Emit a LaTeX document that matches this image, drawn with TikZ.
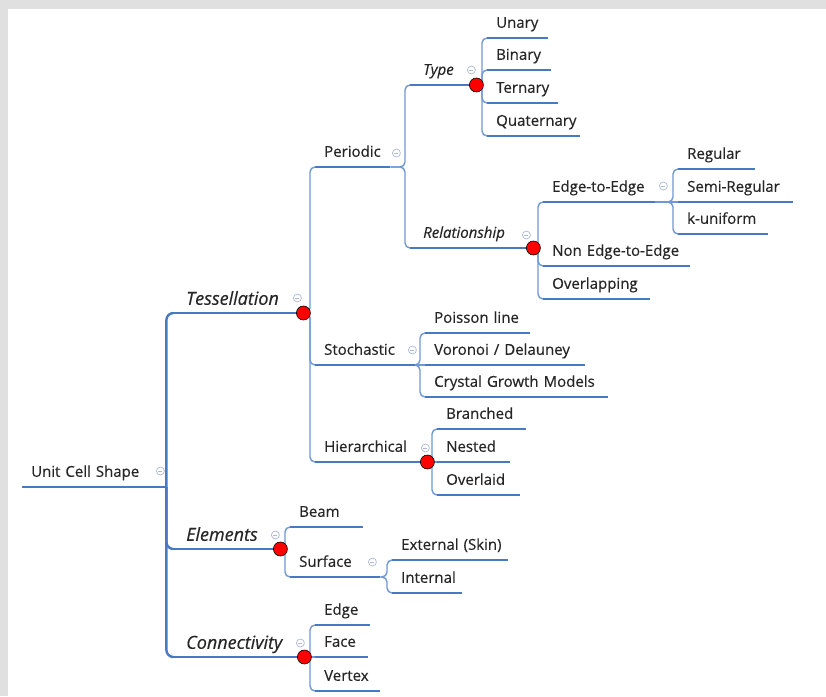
\documentclass[tikz,border=0pt]{standalone}
\usepackage{fontspec}
\setmainfont{Open Sans}[UprightFeatures={FakeBold=0.35}, ItalicFeatures={FakeBold=0.35}]
\usetikzlibrary{backgrounds}
\definecolor{ublue}{RGB}{72,122,196}
\definecolor{lblue}{RGB}{110,152,214}
\definecolor{gblue}{RGB}{172,186,212}
\definecolor{frame}{RGB}{224,224,224}

\begin{document}
\begin{tikzpicture}[x=1pt, y=-1pt,
  every node/.style={font=\fontsize{15}{18}\selectfont, text=black!85},
  uline/.style={draw=ublue, line width=2.2pt},
  topic/.style={anchor=south west, inner sep=0pt, text width=#1, align=left,
    text height=11pt, text depth=10pt, execute at begin node={\hspace*{9pt}},
    append after command={(\tikzlastnode.south west) edge[uline] (\tikzlastnode.south east)}},
  major/.style={font=\fontsize{18}{21}\selectfont\itshape, text depth=8pt,
    execute at begin node={\hspace*{4pt}}},
  minor/.style={font=\fontsize{15}{18}\selectfont\itshape, execute at begin node={\hspace*{4pt}}},
  link/.style={draw=lblue, line width=1.4pt, rounded corners=5pt},
  trunk/.style={draw=ublue, line width=2.4pt, rounded corners=7pt},
  dot/.style={circle, draw=black, fill=red, line width=0.6pt, minimum size=14pt, inner sep=0pt},
  fold/.style={circle, draw=gblue, line width=0.7pt, minimum size=8pt, inner sep=0pt,
    path picture={\draw[gblue, line width=0.7pt] ([xshift=-2pt]path picture bounding box.center) -- ([xshift=2pt]path picture bounding box.center);}}]
\useasboundingbox (0,0) rectangle (826,696);

% topics
\node[topic=143] (root) at (22,487) {Unit Cell Shape};
\node[topic=130, major] (tess) at (173,313) {Tessellation};
\node[topic=107, major] (elem) at (173,549) {Elements};
\node[topic=131, major] (conn) at (173,657) {Connectivity};
\node[topic=75] (per) at (315,167) {Periodic};
\node[topic=100] (sto) at (315,365) {Stochastic};
\node[topic=112] (hier) at (315,462) {Hierarchical};
\node[topic=66, minor] (type) at (410,85) {Type};
\node[topic=123, minor] (rel) at (410,248) {Relationship};
\node[topic=61] (unary) at (487,38) {Unary};
\node[topic=64] (binary) at (487,70) {Binary};
\node[topic=71] (ternary) at (487,103) {Ternary};
\node[topic=93] (quat) at (487,136) {Quaternary};
\node[topic=112] (e2e) at (543,202) {Edge-to-Edge};
\node[topic=147] (ne2e) at (543,266) {Non Edge-to-Edge};
\node[topic=107] (overlap) at (543,299) {Overlapping};
\node[topic=77] (regular) at (678,169) {Regular};
\node[topic=115] (semi) at (678,202) {Semi-Regular};
\node[topic=90] (kuni) at (678,234) {k-uniform};
\node[topic=105] (poisson) at (425,333) {Poisson line};
\node[topic=160] (voronoi) at (425,365) {Voronoi / Delauney};
\node[topic=183] (crystal) at (425,397) {Crystal Growth Models};
\node[topic=89] (branched) at (437,429) {Branched};
\node[topic=73] (nested) at (437,462) {Nested};
\node[topic=83] (overlaid) at (437,495) {Overlaid};
\node[topic=73] (beam) at (290,527) {Beam};
\node[topic=90] (surf) at (290,577) {Surface};
\node[topic=116] (ext) at (392,560) {External (Skin)};
\node[topic=70] (inner) at (392,593) {Internal};
\node[topic=55] (cedge) at (315,625) {Edge};
\node[topic=53] (cface) at (315,657) {Face};
\node[topic=65] (cvertex) at (315,691) {Vertex};

% branches, kept under the topic lines
\begin{scope}[on background layer]
\fill[frame] (0,0) rectangle (826,696);
\fill[white] (8,9) rectangle (826,696);
\draw[trunk] ([xshift=1pt]root.south east) |- (tess.south west);
\draw[trunk] ([xshift=1pt]root.south east) |- (elem.south west);
\draw[trunk] ([xshift=1pt]root.south east) |- (conn.south west);
\draw[link] (tess.south east) -| ([xshift=-5pt]per.south west) -- (per.south west);
\draw[link] (tess.south east) -| ([xshift=-5pt]sto.south west) -- (sto.south west);
\draw[link] (tess.south east) -| ([xshift=-5pt]hier.south west) -- (hier.south west);
\draw[link] (per.south east) -| ([xshift=-5pt]type.south west) -- (type.south west);
\draw[link] (per.south east) -| ([xshift=-5pt]rel.south west) -- (rel.south west);
\draw[link] (type.south east) -| ([xshift=-5pt]unary.south west) -- (unary.south west);
\draw[link] (type.south east) -| ([xshift=-5pt]binary.south west) -- (binary.south west);
\draw[link] (type.south east) -| ([xshift=-5pt]ternary.south west) -- (ternary.south west);
\draw[link] (type.south east) -| ([xshift=-5pt]quat.south west) -- (quat.south west);
\draw[link] (rel.south east) -| ([xshift=-5pt]e2e.south west) -- (e2e.south west);
\draw[link] (rel.south east) -| ([xshift=-5pt]ne2e.south west) -- (ne2e.south west);
\draw[link] (rel.south east) -| ([xshift=-5pt]overlap.south west) -- (overlap.south west);
\draw[link] (e2e.south east) -| ([xshift=-5pt]regular.south west) -- (regular.south west);
\draw[link] (e2e.south east) -- (semi.south west);
\draw[link] (e2e.south east) -| ([xshift=-5pt]kuni.south west) -- (kuni.south west);
\draw[link] (sto.south east) -| ([xshift=-5pt]poisson.south west) -- (poisson.south west);
\draw[link] (sto.south east) -- (voronoi.south west);
\draw[link] (sto.south east) -| ([xshift=-5pt]crystal.south west) -- (crystal.south west);
\draw[link] (hier.south east) -| ([xshift=-5pt]branched.south west) -- (branched.south west);
\draw[link] (hier.south east) -- (nested.south west);
\draw[link] (hier.south east) -| ([xshift=-5pt]overlaid.south west) -- (overlaid.south west);
\draw[link] (elem.south east) -| ([xshift=-5pt]beam.south west) -- (beam.south west);
\draw[link] (elem.south east) -| ([xshift=-5pt]surf.south west) -- (surf.south west);
\draw[link] (surf.south east) -| ([xshift=-5pt]ext.south west) -- (ext.south west);
\draw[link] (surf.south east) -| ([xshift=-5pt]inner.south west) -- (inner.south west);
\draw[link] (conn.south east) -| ([xshift=-5pt]cedge.south west) -- (cedge.south west);
\draw[link] (conn.south east) -- (cface.south west);
\draw[link] (conn.south east) -| ([xshift=-5pt]cvertex.south west) -- (cvertex.south west);
\end{scope}

% collapse marks
\node[fold] (rootfold) at ([shift={(-5,-16)}]root.south east) {};
\node[fold] (tessfold) at ([shift={(-6,-15)}]tess.south east) {};
\node[fold] (elemfold) at ([shift={(-5,-14)}]elem.south east) {};
\node[fold] (connfold) at ([shift={(-4,-14)}]conn.south east) {};
\node[fold] (perfold) at ([shift={(6,-14)}]per.south east) {};
\node[fold] (stofold) at ([shift={(-3,-15)}]sto.south east) {};
\node[fold] (hierfold) at ([shift={(-2,-14)}]hier.south east) {};
\node[fold] (typefold) at ([shift={(-5,-15)}]type.south east) {};
\node[fold] (relfold) at ([shift={(-7,-13)}]rel.south east) {};
\node[fold] (e2efold) at ([shift={(8,-16)}]e2e.south east) {};
\node[fold] (surffold) at ([shift={(-8,-15)}]surf.south east) {};

% red markers
\node[dot] (tessdot) at (tess.south east) {};
\node[dot] (elemdot) at (elem.south east) {};
\node[dot] (conndot) at (conn.south east) {};
\node[dot] (hierdot) at (hier.south east) {};
\node[dot] (typedot) at (type.south east) {};
\node[dot] (reldot) at (rel.south east) {};
\end{tikzpicture}
\end{document}
